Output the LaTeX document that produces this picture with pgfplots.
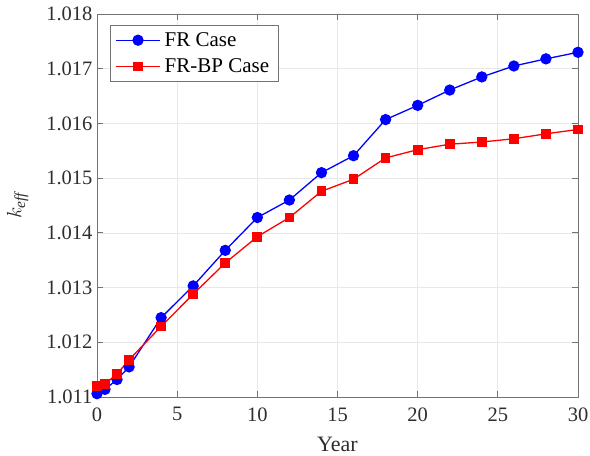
\documentclass[border=0pt]{standalone}
\usepackage{pgfplots}
\pgfplotsset{compat=1.18}
\usepackage{fontspec}
\setmainfont{Liberation Serif}

\definecolor{axgray}{gray}{0.45}
\definecolor{lblgray}{gray}{0.18}

\begin{document}
\begin{tikzpicture}
\begin{axis}[
    name=ax,
    width=481pt, height=383pt,
    scale only axis,
    xmin=0, xmax=30,
    ymin=1.011, ymax=1.018,
    xtick={0,5,10,15,20,25,30},
    ytick={1.011,1.012,1.013,1.014,1.015,1.016,1.017,1.018},
    yticklabel style={xshift=-1pt, /pgf/number format/fixed,
        /pgf/number format/precision=3, /pgf/number format/fixed zerofill},
    scaled y ticks=false,
    /pgf/number format/assume math mode=true,
    tick label style={font=\fontsize{20.5}{23}\selectfont, text=lblgray},
    xticklabel style={yshift=-7pt},
    label style={font=\fontsize{22}{25}\selectfont, text=lblgray},
    xlabel={Year},
    ylabel={$k_{\mathit{eff}}$},
    xlabel style={at={(axis description cs:0.5,-0.125)}, anchor=center},
    ylabel style={at={(axis description cs:-0.165,0.5)}, anchor=center},
    axis line style={axgray, line width=0.8pt},
    tick style={axgray, line width=0.8pt},
    tick align=inside,
    major tick length=6pt,
    grid=major,
    grid style={gray!18, line width=0.7pt},
    legend style={at={(axis description cs:0.027,0.971)}, anchor=north west,
        draw=axgray, font=\fontsize{21}{24}\selectfont, text=black,
        inner xsep=5pt, inner ysep=5pt, row sep=7pt, line width=0.8pt,
        nodes={inner xsep=4pt}},
    legend cell align=left,
    legend image code/.code={
        \draw[mark repeat=2, mark phase=2, #1]
            plot coordinates {(0pt,0pt) (22pt,0pt) (44pt,0pt)};
    },
]
\addplot[color=blue, line width=1.3pt, mark=*, mark size=5pt,
    mark options={solid, fill=blue}]
    coordinates {
    (0,1.01106)(0.5,1.01114)(1.25,1.01132)(2,1.01155)(4,1.01245)(6,1.01303)
    (8,1.01368)(10,1.01428)(12,1.01460)(14,1.01510)(16,1.01541)(18,1.01607)
    (20,1.01633)(22,1.01661)(24,1.01685)(26,1.01705)(28,1.01718)(30,1.01730)
    };
\addplot[color=red, line width=1.3pt, mark=square*, mark size=4.2pt,
    mark options={solid, fill=red}]
    coordinates {
    (0,1.01120)(0.5,1.01124)(1.25,1.01142)(2,1.01168)(4,1.01229)(6,1.01288)
    (8,1.01345)(10,1.01393)(12,1.01428)(14,1.01476)(16,1.01498)(18,1.01537)
    (20,1.01552)(22,1.01562)(24,1.01566)(26,1.01572)(28,1.01581)(30,1.01589)
    };
\legend{FR Case, FR-BP Case}
\end{axis}
\pgfresetboundingbox
\path[use as bounding box] ([shift={(-97pt,-59pt)}]ax.south west)
    rectangle ([shift={(12pt,14pt)}]ax.north east);
\end{tikzpicture}
\end{document}
